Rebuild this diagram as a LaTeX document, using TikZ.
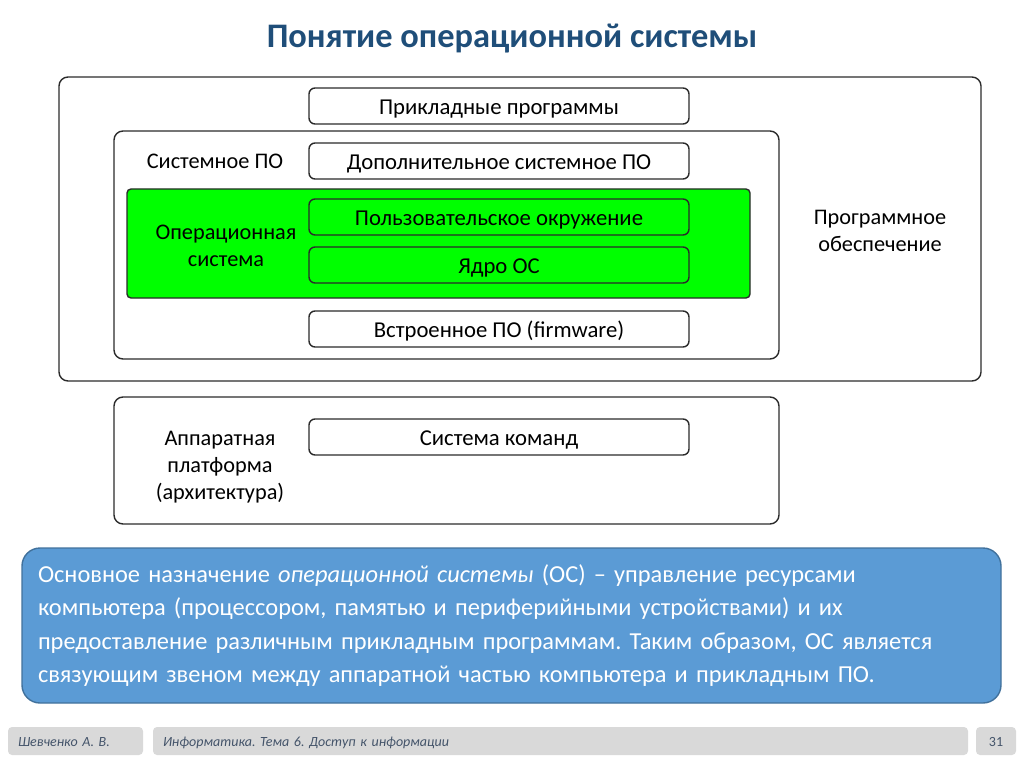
\documentclass[tikz,border=0pt]{standalone}
\usepackage{fontspec}
\setmainfont{Carlito}
\usetikzlibrary{positioning}
\definecolor{titleblue}{HTML}{1F4E79}
\definecolor{osgreen}{HTML}{00FF00}
\definecolor{noteblue}{HTML}{5B9BD5}
\definecolor{noteedge}{HTML}{41719C}
\definecolor{footgray}{HTML}{D9D9D9}
\definecolor{foottext}{HTML}{44546A}
\definecolor{edge}{HTML}{2B2B2B}
\frenchspacing

\begin{document}
\begin{tikzpicture}[x=1pt,y=-1pt,
frame/.style={draw=edge,line width=1.4pt,rounded corners=9pt,inner sep=0pt,outer sep=0pt},
layer/.style={draw=edge,line width=1.4pt,rounded corners=6pt,fill=white,minimum width=380pt,minimum height=36pt,inner sep=0pt,
  text height=17.5pt,text depth=0pt,font=\fontsize{22.7}{27}\selectfont},
lbl/.style={align=center,font=\fontsize{22.3}{27}\selectfont},
foot/.style={fill=footgray,rounded corners=4pt,minimum height=28pt,inner sep=0pt,text height=10pt,text depth=0pt,
  font=\fontsize{14}{16}\selectfont\itshape,text=foottext}
]
\useasboundingbox (0,0) rectangle (1024,767);
\node[font=\fontsize{34.4}{40}\selectfont\bfseries,text=titleblue] (title) at (512,39) {Понятие операционной системы};
% software frames
\node[frame,minimum width=922pt,minimum height=304pt] (soft) at (520,229) {};
\node[frame,fill=white,minimum width=665pt,minimum height=228pt] (sys) at (446.5,245) {};
\node[frame,fill=osgreen,rounded corners=4pt,minimum width=623pt,minimum height=109pt] (os) at (438.5,243.5) {};
\node[layer] (appl) at (499,106) {Прикладные программы};
\node[layer] (extra) at (499,161) {Дополнительное системное ПО};
\node[layer,fill=osgreen] (shell) at (499,217) {Пользовательское окружение};
\node[layer,fill=osgreen] (kernel) at (499,265) {Ядро ОС};
\node[layer] (firm) at (499,329) {Встроенное ПО (firmware)};
\node[lbl] (syslbl) at (215,161) {Системное ПО};
\node[lbl] (oslbl) at (226,246) {Операционная\\система};
\node[lbl] (softlbl) at (880,231) {Программное\\обеспечение};
% hardware
\node[frame,minimum width=665pt,minimum height=127pt] (hw) at (446.5,460.5) {};
\node[layer] (isa) at (499,437) {Система команд};
\node[lbl] (hwlbl) at (220,467) {Аппаратная\\платформа\\(архитектура)};
% note
\node[draw=noteedge,line width=1.4pt,fill=noteblue,rounded corners=18pt,minimum width=979pt,minimum height=155pt,
  text width=947pt,align=left,text=white,font=\fontsize{24.4}{33.6}\selectfont] (note) at (511.5,625.5)
  {Основное назначение \textit{операционной системы} (ОС) – управление ресурсами\\
   компьютера (процессором, памятью и периферийными устройствами) и их\\
   предоставление различным прикладным программам. Таким образом, ОС является\\
   связующим звеном между аппаратной частью компьютера и прикладным ПО.};
% footer
\node[foot,minimum width=135pt,text width=115pt,align=left] (author) at (75.5,741) {Шевченко А. В.};
\node[foot,minimum width=815pt,text width=795pt,align=left] (topic) at (560.5,741) {Информатика. Тема 6. Доступ к информации};
\node[foot,minimum width=40pt,font=\fontsize{14}{16}\selectfont] (page) at (996,741) {31};
\end{tikzpicture}
\end{document}
